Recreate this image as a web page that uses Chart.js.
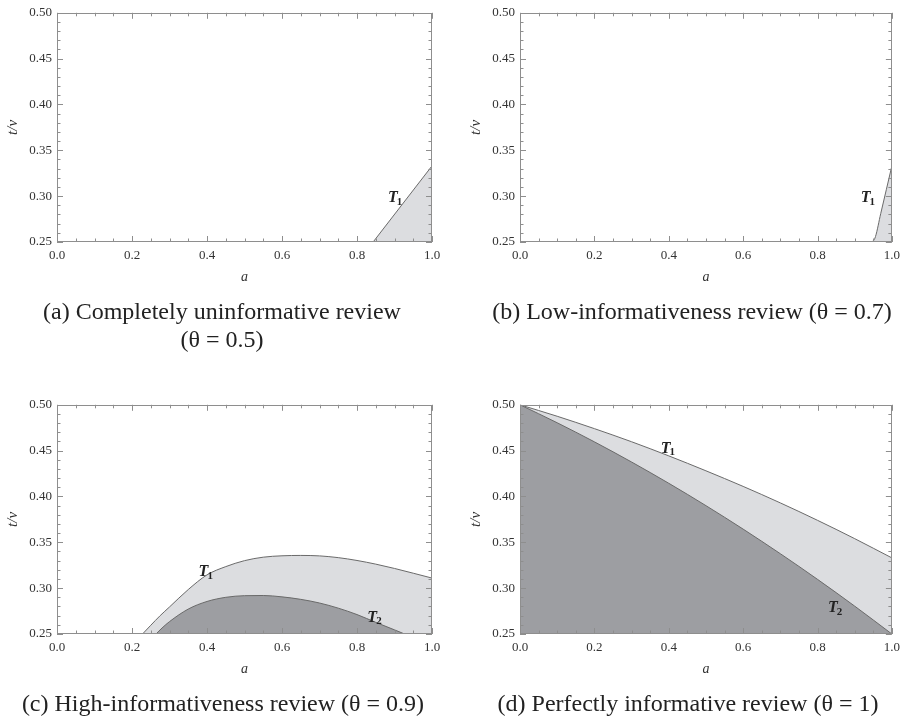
<!DOCTYPE html>
<html><head><meta charset="utf-8">
<script src="https://cdn.jsdelivr.net/npm/chart.js@4.4.1/dist/chart.umd.min.js"></script>
<style>
html,body{margin:0;padding:0;background:#fff;width:906px;height:720px;overflow:hidden;}
.box{position:absolute;}
.cap{position:absolute;font-family:"Liberation Serif","Times New Roman",serif;font-size:24px;color:#222;text-align:center;line-height:28px;white-space:nowrap;}
</style></head><body>
<div class="box" style="left:0;top:0;width:450px;height:300px"><canvas id="ca"></canvas></div>
<div class="box" style="left:450px;top:0;width:456px;height:300px"><canvas id="cb"></canvas></div>
<div class="box" style="left:0;top:392px;width:450px;height:300px"><canvas id="cc"></canvas></div>
<div class="box" style="left:450px;top:392px;width:456px;height:300px"><canvas id="cd"></canvas></div>
<div class="cap" style="left:12px;width:420px;top:297px">(a) Completely uninformative review<br>(θ = 0.5)</div>
<div class="cap" style="left:472px;width:440px;top:297px">(b) Low-informativeness review (θ = 0.7)</div>
<div class="cap" style="left:3px;width:440px;top:689px">(c) High-informativeness review (θ = 0.9)</div>
<div class="cap" style="left:468px;width:440px;top:689px">(d) Perfectly informative review (θ = 1)</div>
<script>
// ---- axis ticks ----
const xTicks = [0.0, 0.2, 0.4, 0.6, 0.8, 1.0];
const xTickLabels = ['0.0', '0.2', '0.4', '0.6', '0.8', '1.0'];
const xMinorTicks = [0.05, 0.10, 0.15, 0.25, 0.30, 0.35, 0.45, 0.50, 0.55, 0.65, 0.70, 0.75, 0.85, 0.90, 0.95];
const yTicks = [0.25, 0.30, 0.35, 0.40, 0.45, 0.50];
const yTickLabels = ['0.25', '0.30', '0.35', '0.40', '0.45', '0.50'];
const yMinorTicks = [0.26, 0.27, 0.28, 0.29, 0.31, 0.32, 0.33, 0.34, 0.36, 0.37, 0.38, 0.39, 0.41, 0.42, 0.43, 0.44, 0.46, 0.47, 0.48, 0.49];

// ---- (a) theta = 0.5 ----
const aT1_a = [0.843, 1.0];
const aT1_v = [0.25, 0.333];
// ---- (b) theta = 0.7 ----
const bT1_a = [0.940, 0.950, 0.956, 0.970, 0.985, 1.0];
const bT1_v = [0.25, 0.2512, 0.256, 0.281, 0.307, 0.333];
// ---- (c) theta = 0.9 ----
const cT1_a = [0.228, 0.25, 0.275, 0.30, 0.35, 0.40, 0.45, 0.50, 0.55, 0.60, 0.65, 0.70, 0.75, 0.80, 0.85, 0.90, 0.95, 1.0];
const cT1_v = [0.25, 0.2595, 0.270, 0.2795, 0.2985, 0.3145, 0.3235, 0.3300, 0.3338, 0.3353, 0.3357, 0.3352, 0.3333, 0.3302, 0.3262, 0.3215, 0.3163, 0.3110];
const cT1edge_a = [1.0, 1.0];
const cT1edge_v = [0.311, 0.331];
const cT2_a = [0.264, 0.28, 0.30, 0.35, 0.40, 0.45, 0.50, 0.55, 0.60, 0.65, 0.70, 0.75, 0.80, 0.85, 0.90, 0.927];
const cT2_v = [0.25, 0.2565, 0.2635, 0.2772, 0.2855, 0.2900, 0.2918, 0.2920, 0.2905, 0.2878, 0.2838, 0.2782, 0.2712, 0.2627, 0.2545, 0.25];
// ---- (d) theta = 1 ----
const dT1_a = [0.0, 0.1, 0.2, 0.3, 0.4, 0.5, 0.6, 0.7, 0.8, 0.9, 1.0];
const dT1_v = [0.500, 0.4875, 0.474, 0.4597, 0.4443, 0.428, 0.411, 0.393, 0.374, 0.354, 0.333];
const dT2_a = [0.0, 0.1, 0.2, 0.3, 0.4, 0.5, 0.6, 0.7, 0.8, 0.9, 1.0];
const dT2_v = [0.500, 0.4804, 0.4596, 0.4376, 0.4144, 0.390, 0.3644, 0.3376, 0.3096, 0.2804, 0.25];

// ---- curve labels (text, subscript, a, v) ----
const aLabels = [['T', '1', 0.903, 0.299]];
const bLabels = [['T', '1', 0.937, 0.299]];
const cLabels = [['T', '1', 0.398, 0.3186], ['T', '2', 0.848, 0.269]];
const dLabels = [['T', '1', 0.399, 0.4533], ['T', '2', 0.849, 0.2793]];

const LIGHT = '#dcdde0', DARK = '#9d9ea2', LINE = '#6a6a6a', FRAME = '#8e8e8e', TXT = '#333';
const SERIF = '"Liberation Serif","Times New Roman",serif';

function pts(xs, ys) { return xs.map((x, i) => ({x: x, y: ys[i]})); }

const framePlugin = {
  id: 'frame',
  afterDatasetsDraw(chart, args, opts) {
    const {ctx, chartArea: ca} = chart;
    const x = chart.scales.x, y = chart.scales.y;
    ctx.save();
    ctx.strokeStyle = FRAME; ctx.lineWidth = 1;
    ctx.beginPath();
    const xt = (vals, len) => vals.forEach(v => {
      const px = Math.round(x.getPixelForValue(v)) + 0.5;
      ctx.moveTo(px, ca.bottom); ctx.lineTo(px, ca.bottom - len);
      ctx.moveTo(px, ca.top); ctx.lineTo(px, ca.top + len);
    });
    const yt = (vals, len) => vals.forEach(v => {
      const py = Math.round(y.getPixelForValue(v)) + 0.5;
      ctx.moveTo(ca.left, py); ctx.lineTo(ca.left + len, py);
      ctx.moveTo(ca.right, py); ctx.lineTo(ca.right - len, py);
    });
    xt(xTicks, 6); xt(xMinorTicks, 3.5);
    yt(yTicks, 6); yt(yMinorTicks, 3.5);
    ctx.stroke();
    ctx.strokeRect(Math.round(ca.left) + 0.5, Math.round(ca.top) + 0.5, Math.round(ca.width) - 1, Math.round(ca.height) - 1);
    // curve labels
    ctx.fillStyle = '#222';
    ctx.textBaseline = 'alphabetic';
    ctx.textAlign = 'left';
    (opts.labels || []).forEach(l => {
      const px = x.getPixelForValue(l[2]), py = y.getPixelForValue(l[3]);
      ctx.font = 'italic bold 16px ' + SERIF;
      const w1 = ctx.measureText(l[0]).width;
      ctx.font = 'bold 11px ' + SERIF;
      const w2 = ctx.measureText(l[1]).width;
      const x0 = px - (w1 + w2) / 2;
      ctx.font = 'italic bold 16px ' + SERIF;
      ctx.fillText(l[0], x0, py + 5);
      ctx.font = 'bold 11px ' + SERIF;
      ctx.fillText(l[1], x0 + w1 - 1, py + 7.5);
    });
    ctx.restore();
  }
};

function makeChart(id, datasets, labels, padLeft, padRight) {
  new Chart(document.getElementById(id), {
    type: 'line',
    data: { datasets: datasets },
    plugins: [framePlugin],
    options: {
      responsive: true, maintainAspectRatio: false, animation: false, events: [],
      layout: { padding: { left: padLeft, right: padRight, top: 11, bottom: 0 } },
      elements: { point: { radius: 0 } },
      plugins: { legend: { display: false }, tooltip: { enabled: false }, frame: { labels: labels } },
      scales: {
        x: {
          type: 'linear', min: 0, max: 1,
          grid: { display: false, drawTicks: false }, border: { display: false },
          afterBuildTicks: s => { s.ticks = xTicks.map(v => ({value: v})); },
          afterFit: s => { s.height = 58; },
          ticks: { padding: 6, color: TXT, font: { family: SERIF, size: 13 }, maxRotation: 0,
                   callback: (v, i) => xTickLabels[i] },
          title: { display: true, text: 'a', color: TXT, padding: { top: 0, bottom: 14 },
                   font: { family: SERIF, size: 14, style: 'italic' } }
        },
        y: {
          type: 'linear', min: 0.25, max: 0.5,
          grid: { display: false, drawTicks: false }, border: { display: false },
          afterBuildTicks: s => { s.ticks = yTicks.map(v => ({value: v})); },
          afterFit: s => { s.width = 53; },
          ticks: { padding: 5, color: TXT, font: { family: SERIF, size: 13 },
                   callback: (v, i) => yTickLabels[i] },
          title: { display: true, text: 't/v', color: TXT, padding: { top: 0, bottom: 0 },
                   font: { family: SERIF, size: 15, style: 'italic' } }
        }
      }
    }
  });
}

function ds(xs, ys, color, ord, fill) {
  return { data: pts(xs, ys), borderColor: LINE, borderWidth: 1, backgroundColor: color,
           fill: fill === false ? false : 'start', cubicInterpolationMode: 'monotone', order: ord };
}

makeChart('ca', [ds(aT1_a, aT1_v, LIGHT, 2)], aLabels, 4, 18);
makeChart('cb', [ds(bT1_a, bT1_v, LIGHT, 2)], bLabels, 17, 10);
makeChart('cc', [ds(cT1_a, cT1_v, LIGHT, 3), ds(cT1edge_a, cT1edge_v, LIGHT, 2, false), ds(cT2_a, cT2_v, DARK, 1)], cLabels, 4, 18);
makeChart('cd', [ds(dT1_a, dT1_v, LIGHT, 2), ds(dT2_a, dT2_v, DARK, 1)], dLabels, 17, 10);
</script>
</body></html>
